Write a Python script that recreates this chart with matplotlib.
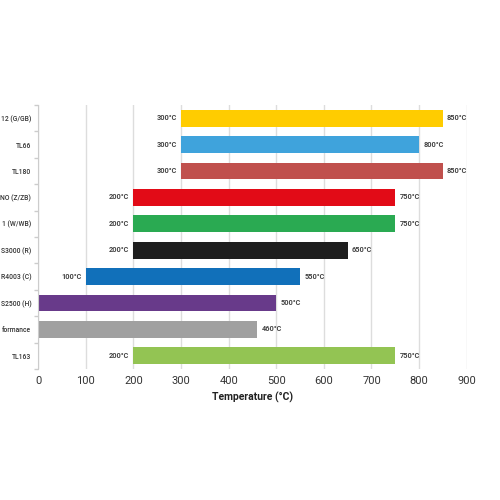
import matplotlib
matplotlib.use("Agg")
import matplotlib.pyplot as plt
from matplotlib.ticker import FixedLocator, NullFormatter

# visible (left-clipped) category names, top to bottom
categories = ["12 (G/GB)", "TL66", "TL180", "NO (Z/ZB)", "1 (W/WB)",
              "S3000 (R)", "R4003 (C)", "S2500 (H)", "formance", "TL163"]
start_temp = [300, 300, 300, 200, 200, 200, 100, 0, 0, 200]
end_temp = [850, 800, 850, 750, 750, 650, 550, 500, 460, 750]
colors = ["#FFCC00", "#3FA3DC", "#C0504D", "#E20B17", "#2AAA52",
          "#1E1E1E", "#1170BA", "#683A8A", "#A0A0A0", "#93C453"]
x_ticks = [0, 100, 200, 300, 400, 500, 600, 700, 800, 900]

plt.rcParams['font.family'] = ['Roboto', 'DejaVu Sans']

fig = plt.figure(figsize=(5, 5), dpi=100)
ax = fig.add_axes([0.0764, 0.262, 0.857, 0.528])

pos = list(range(len(categories)))
widths = [e - s for s, e in zip(start_temp, end_temp)]
ax.barh(pos, widths, left=start_temp, height=0.63, color=colors, zorder=2)

for y, s, e in zip(pos, start_temp, end_temp):
    if s > 0:
        ax.annotate(f"{s}°C", (s, y), xytext=(-3, 0), textcoords="offset points",
                    ha="right", va="center", fontsize=5.3, fontweight="bold", color="#444444")
    ax.annotate(f"{e}°C", (e, y), xytext=(3, 0), textcoords="offset points",
                ha="left", va="center", fontsize=5.3, fontweight="bold", color="#444444")

ax.set_xlim(0, 900)
ax.set_ylim(len(categories) - 0.5, -0.5)
ax.set_xticks(x_ticks)
ax.tick_params(axis="x", length=0, labelsize=8, labelcolor="#333333", pad=5)

# category boundaries get tick marks, names sit at the centres
ax.yaxis.set_major_locator(FixedLocator([i - 0.5 for i in range(len(categories) + 1)]))
ax.yaxis.set_major_formatter(NullFormatter())
ax.yaxis.set_minor_locator(FixedLocator(pos))
ax.set_yticklabels(categories, minor=True)
ax.tick_params(axis="y", which="major", length=3, color="#cccccc", width=1)
ax.tick_params(axis="y", which="minor", length=0, labelsize=4.9, labelcolor="#333333", pad=5)
for lab in ax.get_yticklabels(minor=True):
    lab.set_fontweight("medium")

ax.grid(axis="x", color="#dddddd", linewidth=1, zorder=0)
for side in ["top", "right", "bottom"]:
    ax.spines[side].set_visible(False)
ax.spines["left"].set_color("#cccccc")

ax.set_xlabel("Temperature (°C)", fontsize=7.5, fontweight="bold", color="#222222", labelpad=4)

fig.savefig("out.png", dpi=100)
